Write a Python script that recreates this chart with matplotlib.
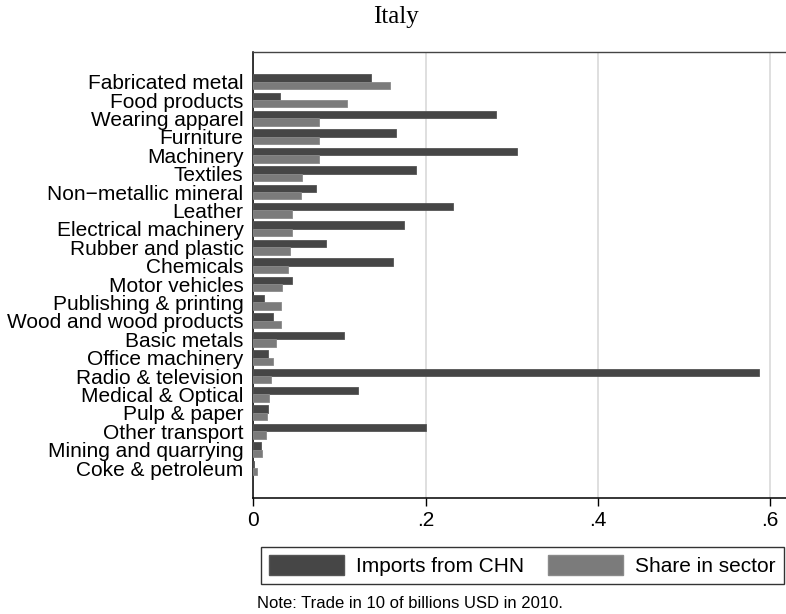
import matplotlib.pyplot as plt
from matplotlib.patches import Patch
import numpy as np

# ---------------------------------------------------
# Data

sectors = [
    "Fabricated metal", "Food products", "Wearing apparel", "Furniture",
    "Machinery", "Textiles", "Non\u2212metallic mineral", "Leather",
    "Electrical machinery", "Rubber and plastic", "Chemicals",
    "Motor vehicles", "Publishing & printing", "Wood and wood products",
    "Basic metals", "Office machinery", "Radio & television",
    "Medical & Optical", "Pulp & paper", "Other transport",
    "Mining and quarrying", "Coke & petroleum",
]
imports_chn = [
    0.137, 0.031, 0.282, 0.166, 0.306, 0.189, 0.073, 0.232, 0.175, 0.084,
    0.162, 0.045, 0.012, 0.023, 0.105, 0.017, 0.587, 0.122, 0.017, 0.201,
    0.009, 0.001,
]
share_sector = [
    0.159, 0.109, 0.076, 0.076, 0.076, 0.057, 0.055, 0.045, 0.045, 0.043,
    0.040, 0.033, 0.032, 0.032, 0.026, 0.023, 0.020, 0.018, 0.016, 0.015,
    0.010, 0.004,
]
x_ticks = [0, 0.2, 0.4, 0.6]
x_ticklabels = ["0", ".2", ".4", ".6"]

DARK = "#464646"
LIGHT = "#7b7b7b"

plt.rcParams["font.family"] = ["Liberation Sans", "DejaVu Sans"]

fig = plt.figure(figsize=(7.86, 6.14), dpi=100)
ax = fig.add_axes([253.3 / 786, 1 - 498 / 614, 1 - 253.3 / 786, (498 - 52) / 614])

pos = np.arange(len(sectors))
bh = 0.4
ax.barh(pos - bh / 2, imports_chn, height=bh, color=DARK,
        edgecolor="#555555", linewidth=0.6, zorder=3)
ax.barh(pos + bh / 2, share_sector, height=bh, color=LIGHT,
        edgecolor="#8a8a8a", linewidth=0.6, zorder=3)

ax.set_ylim(len(sectors) - 1 + 1.63, -1.61)
ax.set_xlim(0, (786 - 253.3) / 861.0)

ax.set_yticks(pos)
ax.set_yticklabels(sectors, fontsize=15)
ax.tick_params(axis="y", length=0, pad=7)

ax.set_xticks(x_ticks)
ax.set_xticklabels(x_ticklabels, fontsize=15)
ax.tick_params(axis="x", length=5.5, width=1, pad=4)

ax.grid(axis="x", color="#d9d9d9", linewidth=1.2, zorder=0)
ax.set_axisbelow(True)

ax.spines["right"].set_visible(False)
ax.spines["left"].set_linewidth(1.1)
ax.spines["bottom"].set_linewidth(1.1)
ax.spines["top"].set_color("#444444")
ax.spines["top"].set_linewidth(1.0)

# title
fig.text(396 / 786, 1 - 23.3 / 614, "Italy", ha="center", va="baseline",
         fontsize=18, family="Liberation Serif")

# legend
handles = [Patch(facecolor=DARK, edgecolor="#555555", label="Imports from CHN"),
           Patch(facecolor=LIGHT, edgecolor="#8a8a8a", label="Share in sector")]
leg = fig.legend(handles=handles, loc="center", ncol=2, fontsize=15,
                 bbox_to_anchor=(522.5 / 786, 1 - 565.5 / 614),
                 frameon=True, fancybox=False, borderpad=0.4,
                 handlelength=3.6, handleheight=1.06, handletextpad=0.58,
                 columnspacing=1.15, borderaxespad=0)
leg.get_frame().set_edgecolor("black")
leg.get_frame().set_linewidth(1.0)

# note
fig.text(257 / 786, 1 - 603 / 614, "Note: Trade in 10 of billions USD in 2010.",
         ha="left", va="center", fontsize=12)

fig.savefig("out.png", dpi=100)
